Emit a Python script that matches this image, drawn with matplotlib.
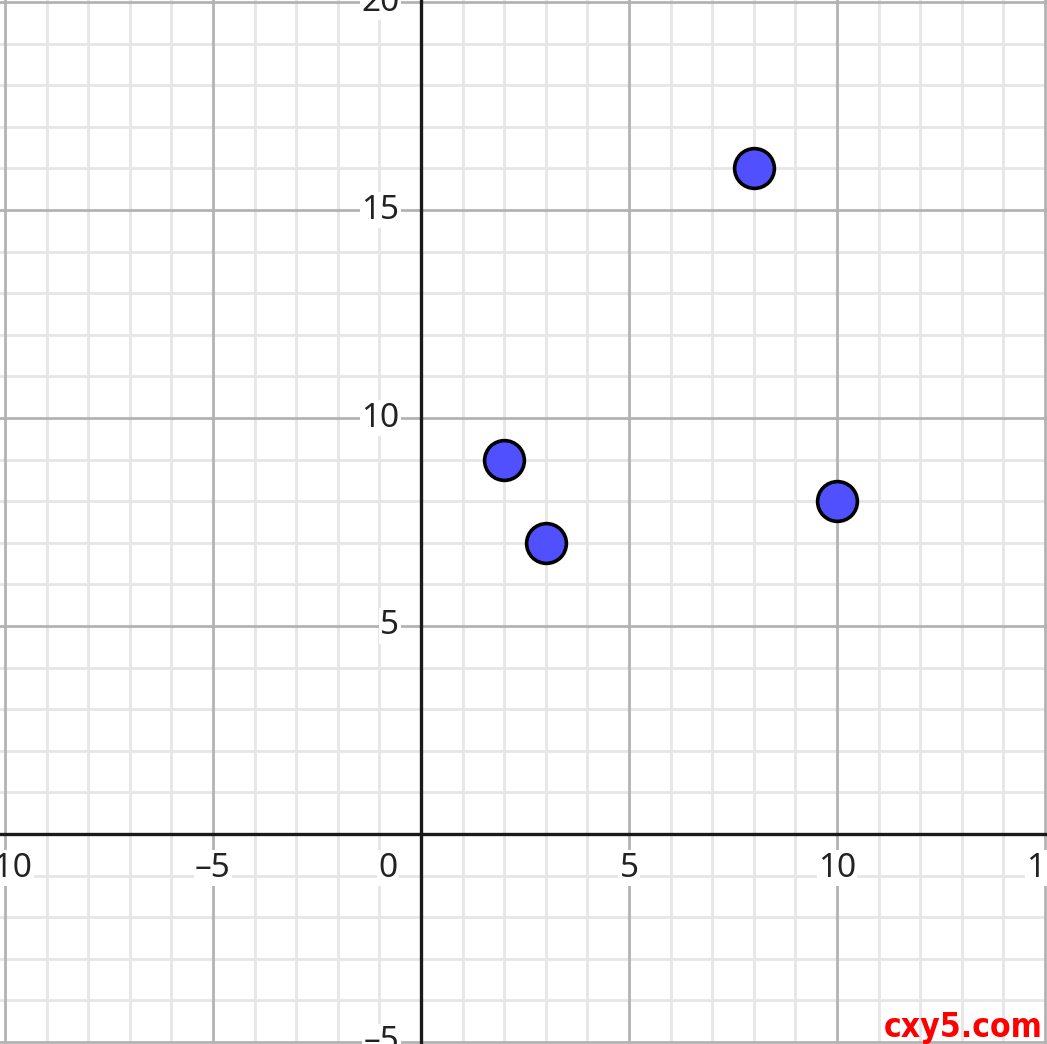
import matplotlib
matplotlib.use("Agg")
import matplotlib.pyplot as plt
import numpy as np

# Data
xs = [2, 3, 8, 10]
ys = [9, 7, 16, 8]
x_tick_labels = [-10, -5, 0, 5, 10, 15]
y_tick_labels = [-5, 5, 10, 15, 20]

xmin, xmax = -10.12, 15.05
ymin, ymax = -5.05, 20.05

fig = plt.figure(figsize=(10.47, 10.44), dpi=100)
ax = fig.add_axes([0, 0, 1, 1])
ax.set_xlim(xmin, xmax)
ax.set_ylim(ymin, ymax)
ax.axis("off")

minor_c = "#e6e6e6"
major_c = "#b3b3b3"
for v in range(-11, 17):
    if v % 5 != 0:
        ax.axvline(v, color=minor_c, lw=2.0, zorder=1)
for v in range(-6, 21):
    if v % 5 != 0:
        ax.axhline(v, color=minor_c, lw=2.0, zorder=1)
for v in range(-10, 20, 5):
    if v != 0:
        ax.axvline(v, color=major_c, lw=2.0, zorder=2)
for v in range(-5, 25, 5):
    if v != 0:
        ax.axhline(v, color=major_c, lw=2.0, zorder=2)
ax.axhline(0, color="#1a1a1a", lw=2.4, zorder=3)
ax.axvline(0, color="#1a1a1a", lw=2.4, zorder=3)

fam = ["Noto Sans", "DejaVu Sans"]
bb = dict(facecolor="white", edgecolor="none", pad=1.0)
for v in x_tick_labels:
    lab = str(v).replace("-", "\u2013")
    if v == 0:
        ax.text(-0.8, -0.82, "0", ha="center", va="center", fontsize=24,
                family=fam, color="#222222", bbox=bb, zorder=4, fontweight="light")
    else:
        ax.text(v, -0.82, lab, ha="center", va="center", fontsize=24,
                family=fam, color="#222222", bbox=bb, zorder=4, fontweight="light")
for v in y_tick_labels:
    lab = str(v).replace("-", "\u2013")
    ax.text(-0.52, v, lab, ha="right", va="center", fontsize=24,
            family=fam, color="#222222", bbox=bb, zorder=4, fontweight="light")

ax.scatter(xs, ys, s=820, facecolor="#5050ff", edgecolor="black",
           linewidth=2.6, zorder=5)

fig.text(0.996, 0.0065, "cxy5.com", ha="right", va="baseline", fontsize=24,
         color="#ff0000", fontweight="bold", fontstretch="condensed",
         family=["DejaVu Sans Condensed", "DejaVu Sans"], zorder=6)

fig.savefig("out.png", dpi=100)
